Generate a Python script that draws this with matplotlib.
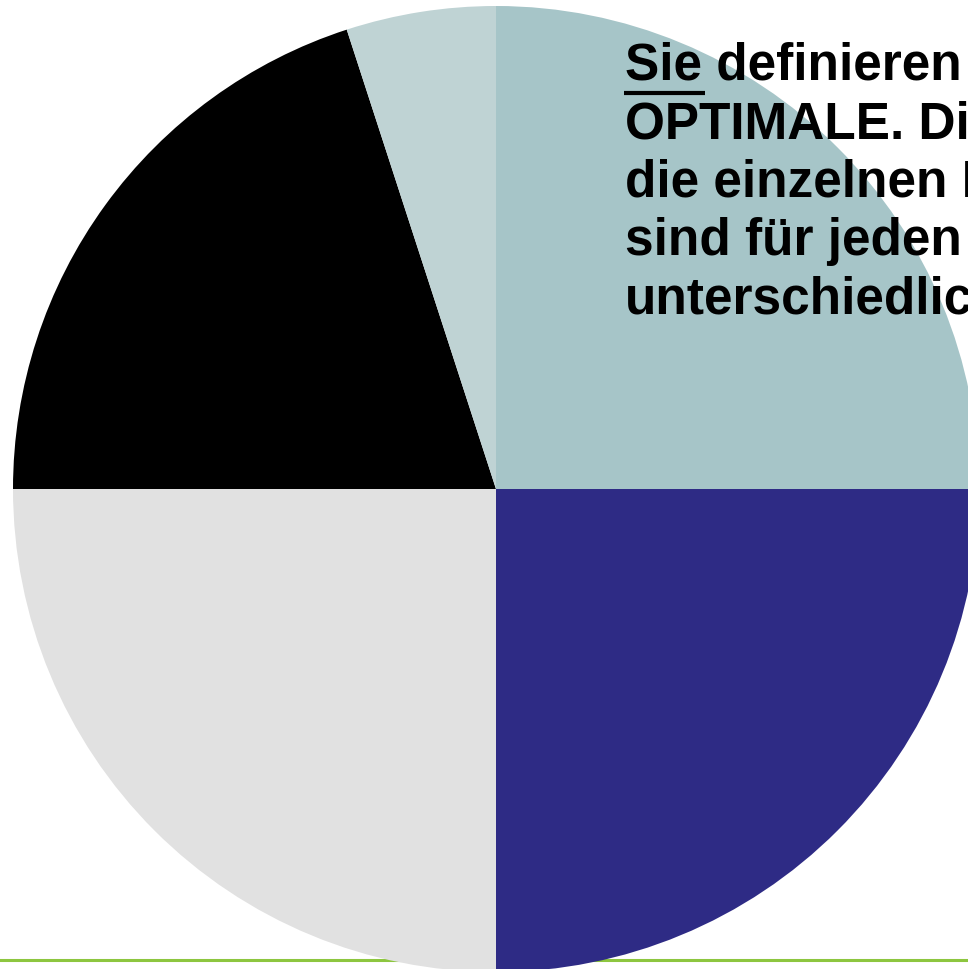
import matplotlib.pyplot as plt

# slice shares, clockwise from 12 o'clock
shares = [25, 25, 25, 20, 5]
colors = ['#A6C5C8', '#2E2B85', '#E1E1E1', '#000000', '#BFD3D4']

text_lines = ['Sie definieren Ihr', 'OPTIMALE. Die', 'die einzelnen Bereiche',
              'sind für jeden', 'unterschiedlich.']

W, H = 968, 969
cx, cy, r = 496, 489, 483

fig = plt.figure(figsize=(W / 100, H / 100), dpi=100)
ax = fig.add_axes([0, 0, 1, 1])
ax.axis('off')

# green rule along the bottom, behind the pie
y_rule = -(960 - cy) / r
ax.plot([-cx / r, (W - cx) / r], [y_rule, y_rule], color='#8DC63F', lw=2.2, zorder=0)

ax.pie(shares, colors=colors, startangle=90, counterclock=False, radius=1,
       wedgeprops=dict(linewidth=0))
ax.set_xlim(-cx / r, (W - cx) / r)
ax.set_ylim(-(H - cy) / r, cy / r)
ax.set_aspect('equal')

def px(x, y):
    return (x - cx) / r, (cy - y) / r

x0 = 625
for i, line in enumerate(text_lines):
    bx, by = px(x0, 80 + i * 58.3)
    ax.text(bx, by, line, fontsize=37, fontweight='bold', family='Liberation Sans',
            ha='left', va='baseline', color='black', clip_on=False, zorder=5)

# underline under "Sie"
ux0, uy = px(624, 93)
ux1, _ = px(705, 93)
ax.plot([ux0, ux1], [uy, uy], color='black', lw=3, solid_capstyle='butt', zorder=5)

fig.savefig('out.png', dpi=100)
